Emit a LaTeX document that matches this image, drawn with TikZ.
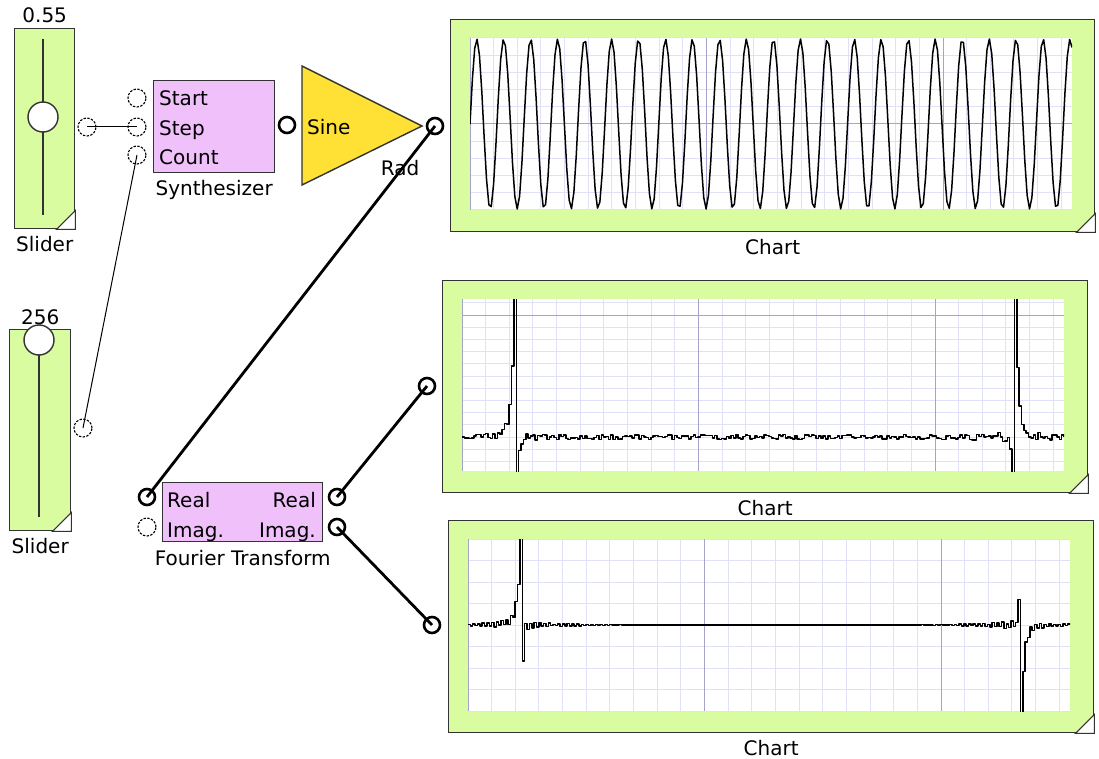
\documentclass[tikz,border=0pt]{standalone}
\usepackage{fontspec}
\setmainfont{DejaVu Sans}
\usetikzlibrary{positioning,calc}
\definecolor{blockgreen}{HTML}{D9FCA1}
\definecolor{blockpink}{HTML}{F0C0FA}
\definecolor{blockyellow}{HTML}{FFE135}
\definecolor{gridc}{HTML}{E0E0F8}
\definecolor{gridd}{HTML}{A4A4CC}
\definecolor{edgec}{HTML}{333333}
\tikzset{
  lbl/.style={font=\fontsize{20}{23}\selectfont,inner sep=0pt,text height=15pt,text depth=0pt},
  port/.style={circle,draw=black,dash pattern=on 2.4pt off 1.4pt,line width=1.1pt,
    minimum size=18pt,inner sep=0pt},
  portb/.style={circle,draw=black,line width=2.6pt,minimum size=16pt,inner sep=0pt},
  wire/.style={draw=black,line width=1pt},
  wireb/.style={draw=black,line width=2.8pt},
  frame/.style={draw=edgec,line width=1.4pt,fill=blockgreen,inner sep=0pt,anchor=north west},
  fblock/.style={draw=edgec,line width=1.4pt,fill=blockpink,inner sep=0pt,anchor=north west},
  knob/.style={circle,draw=edgec,line width=1.4pt,fill=white,minimum size=30pt,inner sep=0pt},
  track/.style={draw=edgec,line width=1.4pt},
  corner/.style={fill=white,draw=edgec,line width=1pt},
  gridl/.style={draw=gridc,line width=1pt},
  gridk/.style={draw=gridd,line width=1pt},
  signal/.style={draw=black,line width=1.5pt,line join=round},
}
\begin{document}
\begin{tikzpicture}[x=1pt,y=-1pt,
  declare function={
    % spike shapes around the two mirrored bins
    hre(\d)=135*exp(-min(abs(\d)/ifthenelse(\d>0,4,0.9),9))/\d;
    him(\d)=83*exp(-min(abs(\d)/ifthenelse(\d>0,4,0.4),9))/\d;
    env(\k,\a,\t)=\a*exp(-min(abs(\k-22.4)/\t,9))+\a*exp(-min(abs(\k-233.6)/\t,9));
  }]
  \useasboundingbox (0,0) rectangle (1099,759);
  \pgfmathsetseed{11}
  % sliders
  \node[frame,minimum width=60,minimum height=200] (slider1) at (14,28) {};
  \draw[track] (43,39) -- (43,215);
  \node[knob] (knob1) at (43,117) {};
  \filldraw[corner] (slider1.south east) -- ++(-19,0) -- ++(19,-19) -- cycle;
  \node[lbl,above=5pt of slider1] (val1) {0.55};
  \node[lbl,below=7pt of slider1] (name1) {Slider};
  \node[port] (sl1out) at (87,127) {};

  \node[frame,minimum width=61,minimum height=201] (slider2) at (9,329) {};
  \draw[track] (39,340) -- (39,517);
  \node[knob] (knob2) at (39,340) {};
  \filldraw[corner] (slider2.south east) -- ++(-19,0) -- ++(19,-19) -- cycle;
  \node[lbl,above=4pt of slider2] (val2) {256};
  \node[lbl,below=7pt of slider2] (name2) {Slider};
  \node[port] (sl2out) at (83,428) {};

  % synthesizer
  \node[fblock,minimum width=121,minimum height=92] (synth) at (153,80) {};
  \node[port] (pstart) at (137,98) {};
  \node[port] (pstep) at (137,127) {};
  \node[port] (pcount) at (137,155) {};
  \node[lbl,anchor=west] (lstart) at (159,98) {Start};
  \node[lbl,anchor=west] (lstep) at (159,128) {Step};
  \node[lbl,anchor=west] (lcount) at (159,157) {Count};
  \node[lbl,below=7pt of synth] (synthname) {Synthesizer};
  \node[portb] (synthout) at (287,125) {};

  % sine
  \filldraw[fill=blockyellow,draw=edgec,line width=1.4pt]
    (302,66) -- (422,126) -- (302,185) -- cycle;
  \node[lbl,anchor=west] (sinename) at (307,127) {Sine};
  \node[lbl] (radname) at (400,168) {Rad};
  \node[portb] (rad) at (435,126) {};

  % fourier transform
  \node[fblock,minimum width=160,minimum height=59] (ft) at (162,482) {};
  \node[portb] (ftinre) at (147,497) {};
  \node[port] (ftinim) at (147,527) {};
  \node[portb] (ftoutre) at (337,497) {};
  \node[portb] (ftoutim) at (337,527) {};
  \node[lbl,anchor=west] (lre1) at (167,500) {Real};
  \node[lbl,anchor=west] (lim1) at (167,530) {Imag.};
  \node[lbl,anchor=east] (lre2) at (316,500) {Real};
  \node[lbl,anchor=east] (lim2) at (316,530) {Imag.};
  \node[lbl,below=8pt of ft] (ftname) {Fourier Transform};

  % chart 1: the sine
  \node[frame,minimum width=644,minimum height=212] (chart1) at (450,19) {};
  \begin{scope}[shift={(450,19)}]
    \fill[white] (20,19) rectangle (622,191);
    \foreach \i in {0,...,25}
      \draw[gridl] ({20+23.65*\i},19) -- ({20+23.65*\i},191);
    \foreach \j in {0,...,10}
      \draw[gridl] (20,{19+17.2*\j}) -- (622,{19+17.2*\j});
    \foreach \i in {0,10,20}
      \draw[gridk] ({20+23.65*\i},19) -- ({20+23.65*\i},191);
    \draw[gridk] (20,105) -- (622,105);
    \begin{scope}
      \clip (20,19) rectangle (622,191);
      \draw[signal] plot[domain=0:255,samples=256]
        ({20+2.3608*\x},{105-85*sin(0.55*\x r)});
    \end{scope}
  \end{scope}
  \filldraw[corner] (chart1.south east) -- ++(-19,0) -- ++(19,-19) -- cycle;
  \node[lbl,below=7pt of chart1] (c1name) {Chart};

  % chart 2: real part
  \node[frame,minimum width=645,minimum height=212] (chart2) at (442,280) {};
  \begin{scope}[shift={(442,280)}]
    \fill[white] (20,19) rectangle (622,191);
    \foreach \i in {0,...,25}
      \draw[gridl] ({20+23.65*\i},19) -- ({20+23.65*\i},191);
    \foreach \n in {-2,...,11}
      \draw[gridl] (20,{157-12.2*\n}) -- (622,{157-12.2*\n});
    \foreach \i in {0,10,20}
      \draw[gridk] ({20+23.65*\i},19) -- ({20+23.65*\i},191);
    \draw[gridk] (20,35) -- (622,35);
    \begin{scope}
      \clip (20,19) rectangle (622,191);
      \draw[signal] plot[const plot,domain=0:255,samples=256]
        ({20+2.3608*\x},{157-hre(22.4-\x)-hre(\x-233.6)-(2.4+env(\x,4,10))*rand});
    \end{scope}
  \end{scope}
  \filldraw[corner] (chart2.south east) -- ++(-19,0) -- ++(19,-19) -- cycle;
  \node[lbl,below=7pt of chart2] (c2name) {Chart};
  \node[portb] (ch2in) at (427,386) {};

  % chart 3: imaginary part
  \node[frame,minimum width=645,minimum height=212] (chart3) at (448,520) {};
  \begin{scope}[shift={(448,520)}]
    \fill[white] (20,19) rectangle (622,191);
    \foreach \i in {0,...,25}
      \draw[gridl] ({20+23.65*\i},19) -- ({20+23.65*\i},191);
    \foreach \j in {0,...,8}
      \draw[gridl] (20,{19+21.5*\j}) -- (622,{19+21.5*\j});
    \foreach \i in {0,10,20}
      \draw[gridk] ({20+23.65*\i},19) -- ({20+23.65*\i},191);
    \begin{scope}
      \clip (20,19) rectangle (622,191);
      \draw[signal] plot[const plot,domain=0:255,samples=256]
        ({20+2.3608*\x},{105-him(22.4-\x)+him(\x-233.6)
          -env(\x,6,14)*(1-2*mod(round(\x),2))*(0.6+0.4*rand)});
    \end{scope}
  \end{scope}
  \filldraw[corner] (chart3.south east) -- ++(-19,0) -- ++(19,-19) -- cycle;
  \node[lbl,below=7pt of chart3] (c3name) {Chart};
  \node[portb] (ch3in) at (432,625) {};

  % wires
  \draw[wire] (sl1out.center) -- (pstep.center);
  \draw[wire] (sl2out.center) -- (pcount.center);
  \draw[wireb] (ftinre.center) -- (rad.center);
  \draw[wireb] (ftoutre.center) -- (ch2in.center);
  \draw[wireb] (ftoutim.center) -- (ch3in.center);
\end{tikzpicture}
\end{document}
